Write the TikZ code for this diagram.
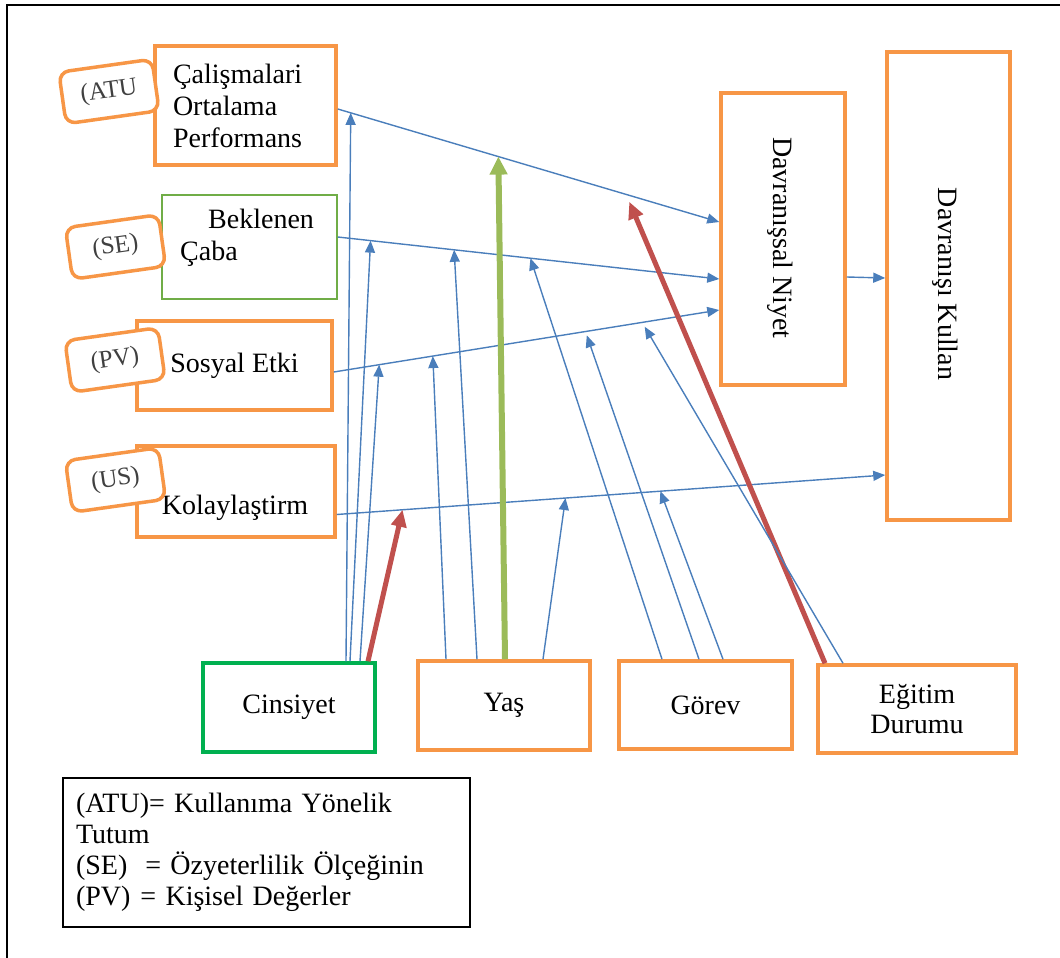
\documentclass[tikz,border=0pt]{standalone}
\usepackage{fontspec}
\setmainfont{Liberation Serif}
\usetikzlibrary{arrows.meta,calc}
\definecolor{boxorange}{HTML}{F79646}
\definecolor{boxgreen}{HTML}{70AD47}
\definecolor{sexgreen}{HTML}{00B050}
\definecolor{linkblue}{HTML}{4A7EBB}
\definecolor{modred}{HTML}{C0504D}
\definecolor{modgreen}{HTML}{9BBB59}
\definecolor{tagtext}{HTML}{404040}

\begin{document}
\begin{tikzpicture}[x=1pt,y=-1pt,
  every node/.style={font=\fontsize{28}{32}\selectfont, inner sep=0pt},
  obox/.style={draw=boxorange, line width=3.5pt, fill=white, rectangle},
  gbox/.style={draw=boxgreen, line width=1.5pt, fill=white, rectangle},
  cbox/.style={draw=sexgreen, line width=3.5pt, fill=white, rectangle},
  tag/.style={draw=boxorange, line width=3.5pt, fill=white, rounded corners=10pt,
    rotate=8, minimum width=94pt, minimum height=52pt, text=tagtext,
    font=\fontsize{25}{28}\selectfont},
  link/.style={draw=linkblue, line width=1.4pt, -{Triangle[length=12pt,width=10pt]}},
  redlink/.style={draw=modred, line width=5pt, -{Triangle[length=17pt,width=15pt]}},
  greenlink/.style={draw=modgreen, line width=6pt, -{Triangle[length=18pt,width=17pt]}},
]
\useasboundingbox (0,0) rectangle (1060,958);

% outer frame
\draw[line width=2.5pt, black] (7,958) -- (7,5) -- (1060,5);

% construct boxes
\node[obox, minimum width=181pt, minimum height=119pt, text width=145pt,
      inner xsep=18pt, align=left] (perf) at (245.5,105.5)
      {Çalişmalari\\Ortalama\\Performans};
\node[gbox, minimum width=175pt, minimum height=104pt] (se) at (249.5,247) {};
\node[anchor=west, align=left] (seText) at (180,237.5) {\hspace*{28pt}Beklenen\\Çaba};
\node[obox, minimum width=195pt, minimum height=89pt] (pv) at (234.5,365.5) {Sosyal Etki};
\node[obox, minimum width=198pt, minimum height=91pt] (us) at (236,491.5) {};
\node (usText) at (235,508) {Kolaylaştirm};

\node[obox, minimum width=124pt, minimum height=292pt] (dn) at (783,239) {};
\node[rotate=-90] (dnText) at (780,238) {Davranışsal Niyet};
\node[obox, minimum width=123pt, minimum height=468pt] (dk) at (948.5,286) {};
\node[rotate=-90] (dkText) at (945,284) {Davranışı Kullan};

% moderators
\node[cbox, minimum width=172pt, minimum height=89pt] (cins) at (289,707.5) {Cinsiyet};
\node[obox, minimum width=172pt, minimum height=89pt] (yas) at (504,705.5) {Yaş};
\node[obox, minimum width=173pt, minimum height=88pt] (gorev) at (705.5,705) {Görev};
\node[obox, minimum width=198pt, minimum height=88pt, align=center,
      font=\fontsize{28}{30}\selectfont] (egitim) at (917,709) {Eğitim\\Durumu};

% abbreviation tags
\node[tag] (atuTag) at (109,91.5) {(ATU};
\node[tag] (seTag) at (115.5,247) {(SE)};
\node[tag] (pvTag) at (115,360) {(PV)};
\node[tag] (usTag) at (115.5,480) {(US)};

% legend
\node[draw=black, line width=1.5pt, minimum width=407pt, minimum height=149pt,
      text width=381pt, inner xsep=13pt, align=left,
      font=\fontsize{28}{31}\selectfont] (legend) at (266.5,852.5)
      {(ATU)= Kullanıma Yönelik\\Tutum\\(SE)\hspace{18pt}= Özyeterlilik Ölçeğinin\\(PV)\hspace{10pt}= Kişisel Değerler};

% main paths
\coordinate (l1s) at ([yshift=-3.5pt]perf.east);
\coordinate (l1e) at ([yshift=17pt]dn.west);
\coordinate (l2s) at ([yshift=10pt]se.east);
\coordinate (l2e) at ([yshift=-40pt]dn.west);
\coordinate (l3s) at ([yshift=-6.5pt]pv.east);
\coordinate (l3e) at ([yshift=-71pt]dn.west);
\coordinate (l4s) at ([yshift=-23pt]us.east);
\coordinate (l4e) at ([yshift=-189pt]dk.west);

\draw[link] (l1s) -- (l1e);
\draw[link] (l2s) -- (l2e);
\draw[link] (l3s) -- (l3e);
\draw[link] (l4s) -- (l4e);
\draw[link] ([yshift=-38pt]dn.east) -- ([yshift=8pt]dk.west);

% points where the moderating arrows meet the paths
\coordinate (t1a) at ($(l1s)!0.034!(l1e)$);
\coordinate (t1b) at ($(l1s)!0.421!(l1e)$);
\coordinate (t1c) at ($(l1s)!0.756!(l1e)$);
\coordinate (t2a) at ($(l2s)!0.086!(l2e)$);
\coordinate (t2b) at ($(l2s)!0.305!(l2e)$);
\coordinate (t2c) at ($(l2s)!0.505!(l2e)$);
\coordinate (t3a) at ($(l3s)!0.118!(l3e)$);
\coordinate (t3b) at ($(l3s)!0.257!(l3e)$);
\coordinate (t3c) at ($(l3s)!0.653!(l3e)$);
\coordinate (t3d) at ($(l3s)!0.8!(l3e)$);
\coordinate (t4a) at ($(l4s)!0.12!(l4e)$);
\coordinate (t4b) at ($(l4s)!0.417!(l4e)$);
\coordinate (t4c) at ($(l4s)!0.59!(l4e)$);

% moderating arrows
\draw[link] ([xshift=57pt]cins.north) -- (t1a);
\draw[link] ([xshift=61pt]cins.north) -- (t2a);
\draw[link] ([xshift=71pt]cins.north) -- (t3a);
\draw[redlink] ([xshift=79pt]cins.north) -- (t4a);

\draw[link] ([xshift=-58pt]yas.north) -- (t3b);
\draw[link] ([xshift=-27pt]yas.north) -- (t2b);
\draw[greenlink] ([xshift=1pt]yas.north) -- (t1b);
\draw[link] ([xshift=39pt]yas.north) -- (t4b);

\draw[link] ([xshift=-43.5pt]gorev.north) -- (t2c);
\draw[link, shorten >=4pt] ([xshift=-6.5pt]gorev.north) -- (t3c);
\draw[link] ([xshift=17.5pt]gorev.north) -- (t4c);

\draw[redlink, shorten >=8pt] ([xshift=-92pt]egitim.north) -- (t1c);
\draw[link, shorten >=5pt] ([xshift=-74pt]egitim.north) -- (t3d);
\end{tikzpicture}
\end{document}
